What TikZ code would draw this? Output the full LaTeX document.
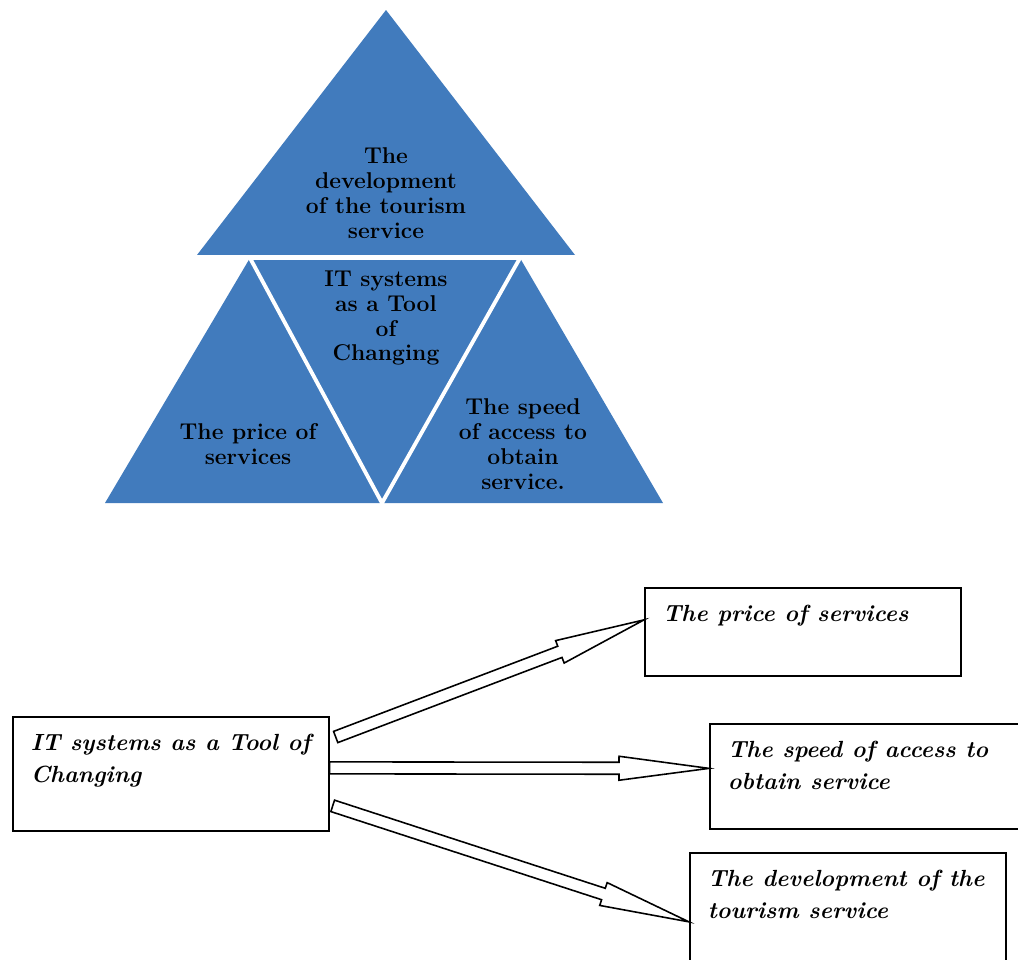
\documentclass[tikz,border=0pt]{standalone}
\usepackage{tikz}
\usetikzlibrary{calc, positioning}

\definecolor{pyrblue}{RGB}{65,123,189}

% hollow block arrow from #1 to #2
\newcommand{\hollowarrow}[2]{%
  \coordinate (ha-h) at ($(#2)!1.8cm!(#1)$);
  \draw[fatarrow] ($(#1)!0.12cm!90:(#2)$)
    -- ($(ha-h)!0.12cm!-90:(#1)$) -- ($(ha-h)!0.24cm!-90:(#1)$)
    -- (#2)
    -- ($(ha-h)!0.24cm!90:(#1)$) -- ($(ha-h)!0.12cm!90:(#1)$)
    -- ($(#1)!0.12cm!-90:(#2)$) -- cycle;
}
\newcommand{\boxtext}[2]{\parbox[t][#1][t]{5.6cm}{\raggedright #2}}

\begin{document}
\begin{tikzpicture}[
    x=0.02cm, y=-0.02cm,
    pyrtext/.style={align=center, inner sep=0pt, font=\fontsize{13}{14.2}\selectfont\bfseries},
    outbox/.style={draw, line width=1pt, anchor=north west, inner xsep=0.36cm, inner ysep=0.35cm,
        font=\fontsize{13.3}{18.3}\selectfont\bfseries\itshape},
    fatarrow/.style={draw, fill=white, line width=0.9pt, line join=miter},
    sep/.style={draw=white, line width=2.2pt}
]
    \useasboundingbox (0,0) rectangle (1018,960);
    \clip (0,0) rectangle (1018,960);

    % pyramid
    \fill[pyrblue] (386,10) -- (197,255) -- (575,255) -- cycle;
    \fill[pyrblue] (250,258) -- (105,503) -- (382,503) -- cycle;
    \fill[pyrblue] (250,258) -- (520,258) -- (382,503) -- cycle;
    \fill[pyrblue] (520,258) -- (382,503) -- (663,503) -- cycle;
    \draw[sep] (197,256.5) -- (575,256.5);
    \draw[sep] (250,258) -- (520,258) -- (382,503) -- cycle;

    \node[pyrtext] (ptop) at (386,193) {The\\development\\of the tourism\\service};
    \node[pyrtext] (pmid) at (386,318) {IT systems\\as a Tool\\of\\Changing};
    \node[pyrtext] (pleft) at (248,444) {The price of\\services};
    \node[pyrtext] (pright) at (523,444) {The speed\\of access to\\obtain\\service.};

    % boxes
    \node[outbox] (it) at (12,716) {\boxtext{1.58cm}{IT systems as a Tool of\\Changing}};
    \node[outbox] (price) at (644,587) {\boxtext{1.06cm}{The price of services}};
    \node[outbox] (speed) at (709,723) {\boxtext{1.4cm}{The speed of access to\\obtain service}};
    \node[outbox] (devel) at (689,852) {\boxtext{1.5cm}{The development of the\\tourism service}};

    \hollowarrow{[shift={(6,21)}]it.north east}{[shift={(0,-12)}]price.west}
    \hollowarrow{[shift={(0,-6)}]it.east}{[shift={(0,-8)}]speed.west}
    \hollowarrow{[shift={(3,32)}]it.east}{[shift={(0,14)}]devel.west}
\end{tikzpicture}
\end{document}
